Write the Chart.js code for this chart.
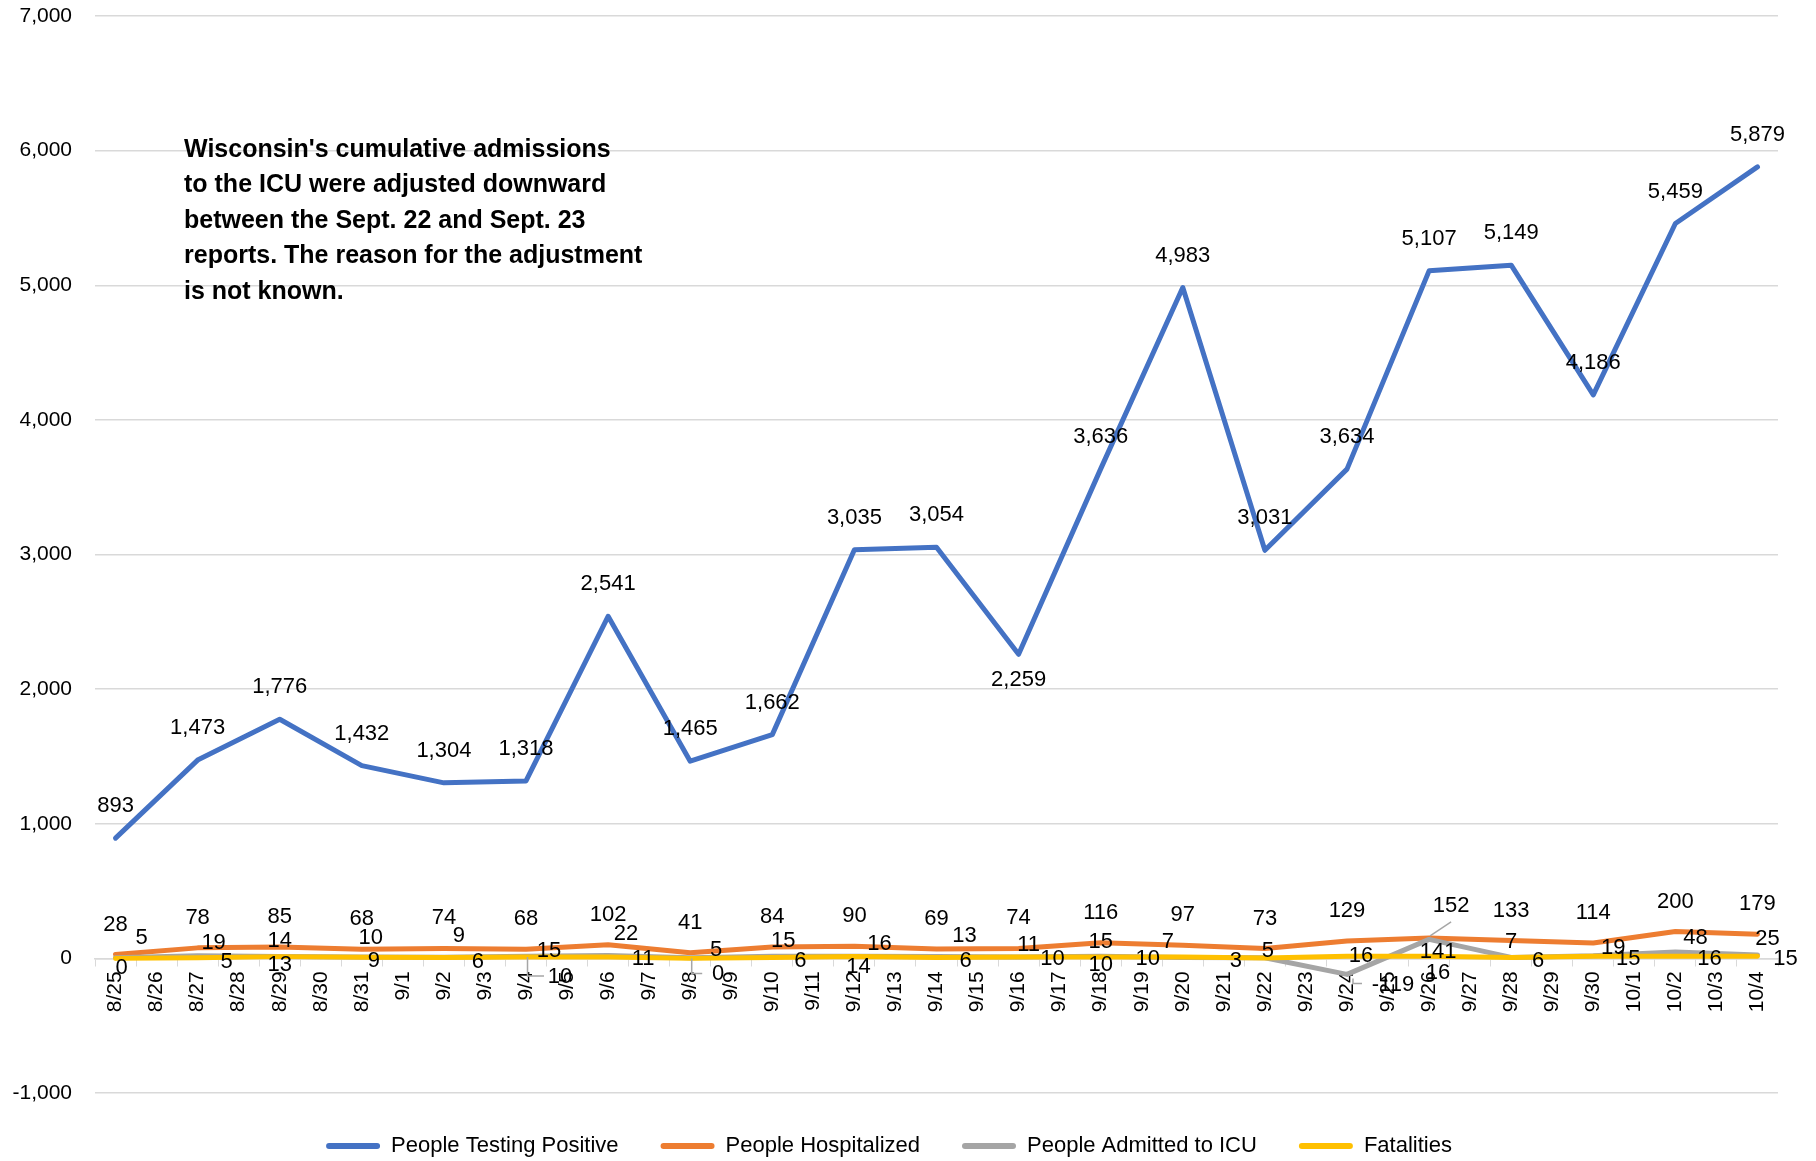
<!DOCTYPE html>
<html>
<head>
<meta charset="utf-8">
<script src="https://cdn.jsdelivr.net/npm/chart.js@4"></script>
<style>
  html, body { margin: 0; padding: 0; background: #fff; }
  #wrap { width: 1816px; height: 1161px; position: relative; }
</style>
</head>
<body>
<div id="wrap"><canvas id="covidChart"></canvas></div>
<script>
// Eje de días (8/25 .. 10/4)
const dayLabels = [
  '8/25','8/26','8/27','8/28','8/29','8/30','8/31',
  '9/1','9/2','9/3','9/4','9/5','9/6','9/7','9/8','9/9','9/10','9/11','9/12','9/13','9/14','9/15',
  '9/16','9/17','9/18','9/19','9/20','9/21','9/22','9/23','9/24','9/25','9/26','9/27','9/28','9/29','9/30',
  '10/1','10/2','10/3','10/4'
];

// Fechas con informe
const reportDates = ['8/25','8/27','8/29','8/31','9/2','9/4','9/6','9/8','9/10','9/12','9/14',
  '9/16','9/18','9/20','9/22','9/24','9/26','9/28','9/30','10/2','10/4'];

const positive = [893, 1473, 1776, 1432, 1304, 1318, 2541, 1465, 1662, 3035, 3054,
  2259, 3636, 4983, 3031, 3634, 5107, 5149, 4186, 5459, 5879];
const hospitalized = [28, 78, 85, 68, 74, 68, 102, 41, 84, 90, 69,
  74, 116, 97, 73, 129, 152, 133, 114, 200, 179];
const icu = [5, 19, 14, 10, 9, 15, 22, 5, 15, 16, 13,
  11, 15, 7, 5, -119, 141, 7, 19, 48, 25];
const fatalities = [0, 5, 13, 9, 6, 10, 11, 0, 6, 14, 6,
  10, 10, 10, 3, 16, 16, 6, 15, 16, 15];

const yTicks = [-1000, 0, 1000, 2000, 3000, 4000, 5000, 6000, 7000];

const note = [
  "Wisconsin's cumulative admissions",
  'to the ICU were adjusted downward',
  'between the Sept. 22 and Sept. 23',
  'reports. The reason for the adjustment',
  'is not known.'
];

// desplazamientos de etiquetas (px respecto al punto)
const icuOffsets = [[26,-20],[16,-13],[0,-16],[9,-19],[15,-21],[23,-5],[18,-21],[26,-8],[11,-15],[25,-12],[28,-21],
  [10,-12],[0,-14],[-15,-15],[3,-7],[46,11],[9,13],[0,-15],[20,-8],[20,-14],[10,-16]];
const fatOffsets = [[6,10],[29,4],[0,8],[12,4],[34,4],[34,20],[35,2],[28,16],[28,3],[4,10],[29,3],
  [34,2],[0,8],[-35,2],[-29,3],[14,0],[9,17],[27,3],[35,3],[34,3],[28,3]];

const FONT = 'Liberation Sans, Arial, sans-serif';

function toPoints(values) {
  return values.map((v, i) => ({ x: reportDates[i], y: v }));
}

// ---- etiquetas de datos ----
const labelPlugin = {
  id: 'pointLabels',
  afterDatasetsDraw(chart) {
    const ctx = chart.ctx;
    ctx.save();
    ctx.font = '22px ' + FONT;
    ctx.fillStyle = '#000';
    ctx.textAlign = 'center';
    ctx.textBaseline = 'middle';

    // líneas guía
    ctx.strokeStyle = '#a6a6a6';
    ctx.lineWidth = 1.5;
    const hp = chart.getDatasetMeta(1).data[16];
    ctx.beginPath(); ctx.moveTo(hp.x + 1, hp.y - 2); ctx.lineTo(hp.x + 22, hp.y - 16); ctx.stroke();
    [5, 7].forEach(i => {
      const p = chart.getDatasetMeta(3).data[i];
      const o = fatOffsets[i];
      ctx.beginPath();
      ctx.moveTo(p.x + 1.5, p.y);
      ctx.lineTo(p.x + 1.5, p.y + o[1] - 1);
      ctx.lineTo(p.x + o[0] - 16, p.y + o[1] - 1);
      ctx.stroke();
    });
    const ip = chart.getDatasetMeta(2).data[15];
    ctx.beginPath(); ctx.moveTo(ip.x + 6, ip.y + 4); ctx.lineTo(ip.x + 6, ip.y + 9); ctx.lineTo(ip.x + 15, ip.y + 9); ctx.stroke();

    const draw = (dsIndex, values, offsetFn) => {
      const meta = chart.getDatasetMeta(dsIndex);
      meta.data.forEach((pt, i) => {
        const [dx, dy] = offsetFn(i);
        ctx.fillText(values[i].toLocaleString('en-US'), pt.x + dx, pt.y + dy);
      });
    };
    draw(0, positive, i => (i === 11 ? [0, 26] : [0, -32]));
    draw(1, hospitalized, i => (i === 16 ? [22, -32] : [0, -30]));
    draw(2, icu, i => icuOffsets[i]);
    draw(3, fatalities, i => fatOffsets[i]);
    ctx.restore();
  },
  afterDraw(chart) {
    const ctx = chart.ctx;
    ctx.save();
    ctx.font = 'bold 25px ' + FONT;
    ctx.fillStyle = '#000';
    ctx.textAlign = 'left';
    ctx.textBaseline = 'middle';
    note.forEach((line, i) => ctx.fillText(line, 184, 150 + i * 35.5));
    ctx.restore();
  }
};

const lineStyle = { borderWidth: 5, pointRadius: 0, pointHoverRadius: 0, tension: 0,
  borderJoinStyle: 'round', borderCapStyle: 'round', fill: false };

new Chart(document.getElementById('covidChart'), {
  type: 'line',
  data: {
    labels: dayLabels,
    datasets: [
      { label: 'People Testing Positive', data: toPoints(positive), borderColor: '#4472c4', backgroundColor: '#4472c4', order: 4, ...lineStyle },
      { label: 'People Hospitalized', data: toPoints(hospitalized), borderColor: '#ed7d31', backgroundColor: '#ed7d31', order: 3, ...lineStyle },
      { label: 'People Admitted to ICU', data: toPoints(icu), borderColor: '#a5a5a5', backgroundColor: '#a5a5a5', order: 2, ...lineStyle },
      { label: 'Fatalities', data: toPoints(fatalities), borderColor: '#ffc000', backgroundColor: '#ffc000', order: 1, ...lineStyle }
    ]
  },
  options: {
    responsive: true,
    maintainAspectRatio: false,
    animation: false,
    devicePixelRatio: 1,
    layout: { padding: { left: 0, right: 38, top: 16, bottom: 0 } },
    plugins: {
      tooltip: { enabled: false },
      legend: {
        position: 'bottom',
        maxHeight: 68,
        labels: {
          color: '#000',
          font: { family: FONT, size: 22 },
          boxWidth: 54,
          boxHeight: 6,
          padding: 42,
          useBorderRadius: true,
          borderRadius: 3,
          sort: (a, b) => a.datasetIndex - b.datasetIndex,
          generateLabels(chart) {
            return Chart.defaults.plugins.legend.labels.generateLabels(chart).map(l => ({ ...l, lineWidth: 0 }));
          }
        }
      }
    },
    scales: {
      x: {
        type: 'category',
        position: { y: 0 },
        offset: true,
        afterFit(scale) { scale.height = 0; },
        grid: { display: true, drawOnChartArea: false, drawTicks: true, tickLength: 7, color: '#d9d9d9', offset: true },
        border: { display: true, color: '#d9d9d9', width: 1.5 },
        ticks: {
          autoSkip: false,
          minRotation: 90,
          maxRotation: 90,
          padding: 6,
          color: '#000',
          font: { family: FONT, size: 21 }
        }
      },
      y: {
        min: -1000,
        max: 7000,
        afterFit(scale) {
          scale.width = 95;
          scale.paddingTop = 0;
          scale.paddingBottom = 0;
        },
        afterBuildTicks(scale) { scale.ticks = yTicks.map(v => ({ value: v })); },
        grid: { color: '#d9d9d9', lineWidth: 1.5, drawTicks: false },
        border: { display: false },
        ticks: {
          padding: 23,
          color: '#000',
          font: { family: FONT, size: 21 },
          callback: v => v.toLocaleString('en-US')
        }
      }
    }
  },
  plugins: [labelPlugin]
});
</script>
</body>
</html>
